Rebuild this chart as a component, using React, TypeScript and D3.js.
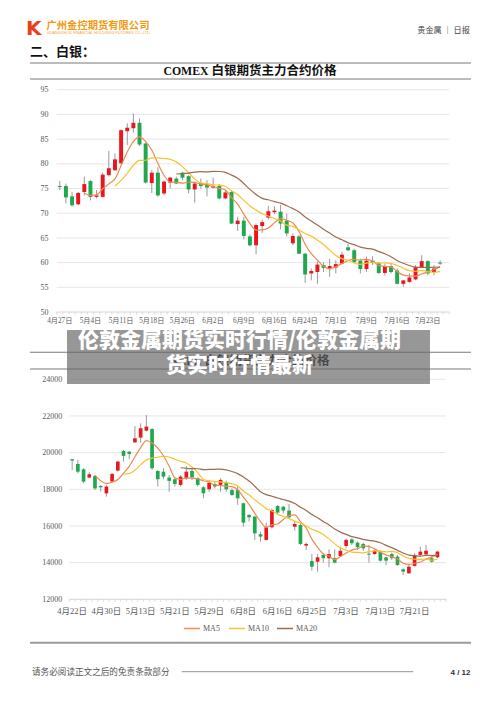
import React from "react";
import * as d3 from "d3";

// ---------- Chart 1: COMEX silver ----------
const comexTickLabels = ["4月27日", "5月4日", "5月11日", "5月18日", "5月26日", "6月2日", "6月9日", "6月16日", "6月24日", "7月1日", "7月9日", "7月16日", "7月23日"];
const comexSlots = 64;
const comexOpen = [75.5, 75.5, 73.4, 71.8, 74.3, 76.5, 73.3, 73.3, 77.7, 78.7, 80.1, 86.6, 87.2, 88.3, 84.1, 76.1, 78.2, 74.0, 76.2, 77.0, 78.2, 77.5, 74.8, 76.1, 75.8, 75.2, 75.5, 73.0, 74.3, 67.8, 68.5, 65.3, 63.5, 67.4, 69.1, 70.2, 70.3, 68.5, 63.9, 65.3, 61.8, 57.8, 58.1, 59.5, 58.7, 59.0, 59.8, 63.1, 62.5, 60.4, 58.7, 60.4, 59.9, 57.9, 59.3, 58.4, 55.7, 56.1, 56.6, 59.1, 60.3, 58.1, 60.0];
const comexHigh = [76.5, 76.0, 74.3, 74.3, 77.4, 76.7, 74.7, 78.2, 82.6, 82.1, 87.0, 88.2, 90.2, 89.2, 84.3, 78.7, 79.3, 76.7, 77.4, 77.4, 78.4, 77.7, 76.3, 77.0, 76.7, 77.2, 75.9, 74.7, 74.5, 69.3, 69.3, 65.7, 67.9, 68.7, 71.5, 71.4, 71.7, 69.9, 65.9, 65.6, 62.0, 58.8, 60.3, 60.1, 60.8, 60.5, 62.2, 63.8, 62.8, 60.8, 61.2, 61.3, 60.1, 59.8, 59.8, 58.8, 56.5, 57.8, 59.5, 61.5, 60.5, 59.5, 60.5];
const comexLow = [74.7, 72.0, 71.3, 71.6, 73.6, 72.6, 73.0, 73.2, 77.4, 78.6, 79.9, 83.8, 86.3, 83.6, 76.0, 74.1, 73.3, 73.6, 75.0, 75.9, 76.7, 74.0, 72.1, 75.0, 73.4, 75.0, 72.8, 72.8, 67.8, 66.4, 64.7, 63.3, 61.7, 66.0, 68.7, 69.8, 66.7, 65.3, 63.5, 61.7, 55.9, 56.4, 55.7, 58.1, 57.1, 57.8, 59.6, 62.3, 59.9, 57.8, 58.1, 59.5, 57.7, 57.4, 57.8, 55.6, 55.1, 55.9, 56.4, 58.9, 57.4, 57.4, 59.5];
const comexClose = [75.4, 73.2, 71.6, 74.1, 75.9, 73.3, 73.6, 77.8, 79.1, 80.9, 86.8, 87.3, 88.3, 83.9, 76.2, 78.2, 73.6, 76.4, 77.2, 76.0, 77.2, 74.8, 76.0, 75.5, 75.2, 75.5, 73.0, 74.2, 67.9, 68.5, 65.4, 63.5, 67.6, 68.2, 70.4, 70.5, 67.9, 65.9, 65.4, 61.8, 57.6, 58.3, 59.6, 58.9, 59.3, 59.7, 61.6, 62.5, 60.1, 58.7, 60.4, 59.9, 57.9, 59.3, 58.1, 55.7, 56.4, 57.0, 59.1, 60.3, 57.8, 58.8, 59.8];
const comexYTicks = [50, 55, 60, 65, 70, 75, 80, 85, 90, 95];

// ---------- Chart 2: SHFE silver ----------
const shfeTickLabels = ["4月22日", "4月30日", "5月13日", "5月21日", "5月29日", "6月8日", "6月16日", "6月25日", "7月3日", "7月13日", "7月21日"];
const shfeSlots = 66;
const shfeOpen = [19640, 19380, 19090, 18640, 18730, 18180, 17780, 18420, 19020, 20090, 20050, 20560, 20820, 21200, 21290, 19000, 18960, 18640, 18550, 18240, 18600, 19000, 18600, 18110, 18000, 18290, 18240, 18360, 17960, 17960, 17240, 16600, 16510, 15550, 15240, 15930, 17090, 17050, 16840, 15960, 16050, 14930, 14090, 14050, 14420, 14240, 14240, 14360, 14910, 15270, 15090, 15020, 14490, 14470, 14600, 14290, 14470, 14330, 13640, 13420, 13820, 14420, 14450, 14240, 14290];
const shfeHigh = [19660, 19600, 19150, 18960, 18780, 18240, 18240, 18870, 19560, 20150, 20090, 21450, 21600, 22050, 21330, 19050, 19150, 18780, 18650, 18780, 19270, 19150, 18650, 18180, 18510, 18420, 18600, 18470, 18050, 18150, 17270, 16650, 16550, 15690, 16180, 16960, 17150, 17090, 17200, 16240, 16150, 15090, 14470, 14470, 14510, 14730, 14730, 14870, 15330, 15330, 15150, 15090, 14960, 14730, 14650, 14330, 14550, 14420, 13690, 13870, 14510, 14870, 14960, 14330, 14650];
const shfeLow = [19050, 18870, 18330, 18600, 17960, 17870, 17600, 18360, 18960, 19510, 19640, 20540, 20540, 21150, 19050, 18150, 18550, 17870, 18150, 18150, 18510, 18510, 18150, 17510, 17870, 18050, 17870, 17870, 17640, 17150, 15960, 16240, 15240, 15150, 15200, 15870, 16650, 16690, 16420, 15750, 14960, 14690, 13560, 13510, 14000, 13750, 13960, 14330, 14780, 14960, 14690, 14640, 14000, 14420, 14050, 13870, 14150, 13820, 13330, 13380, 13780, 14330, 14380, 14000, 14240];
const shfeClose = [19570, 18960, 18420, 18820, 18050, 18110, 18150, 18840, 19510, 19820, 19930, 20780, 21330, 21420, 19150, 18550, 18690, 18460, 18290, 18690, 18960, 18650, 18240, 17780, 18360, 18150, 18510, 18000, 17690, 17510, 16180, 16470, 15600, 15420, 15930, 16870, 16730, 16840, 16470, 16110, 15020, 15020, 13780, 14290, 14240, 14470, 14000, 14650, 15240, 15060, 14840, 14780, 14460, 14650, 14110, 14110, 14240, 13870, 13510, 13780, 14420, 14600, 14650, 14050, 14600];
const shfeYTicks = [12000, 14000, 16000, 18000, 20000, 22000, 24000];

// ---------- Moving averages / legend ----------
const maPeriods = [5, 10, 20];
const maNames = ["MA5", "MA10", "MA20"];
const maColors = ["#ee8a52", "#f5c332", "#9c6b50"];

const UP = "#e8171f";
const DOWN = "#1fa84d";
const WICK = "#9a9a9a";
const AXIS_TEXT = "#595959";
const SERIF = "'Liberation Serif', 'Times New Roman', 'Noto Sans CJK SC', serif";
const CJK = "'Noto Sans CJK SC', sans-serif";

function movingAverage(values: number[], n: number): (number | null)[] {
  return values.map((_, i) => (i < n - 1 ? null : (d3.mean(values.slice(i - n + 1, i + 1)) as number)));
}

type ChartProps = {
  open: number[];
  high: number[];
  low: number[];
  close: number[];
  slots: number;
  tickLabels: string[];
  tickEvery: number;
  left: number;
  right: number;
  top: number;
  bottom: number;
  yMin: number;
  yMax: number;
  yTicks: number[];
  yLabelX: number;
  xLabelY: number;
  xFont: number;
  yFont: number;
};

function CandleChart(p: ChartProps) {
  const x = d3.scaleBand<number>().domain(d3.range(p.slots)).range([p.left, p.right]).padding(0);
  const y = d3.scaleLinear().domain([p.yMin, p.yMax]).range([p.bottom, p.top]);
  const bw = x.bandwidth();
  const cx = (i: number) => (x(i) ?? 0) + bw / 2;
  const bodyW = bw * 0.64;
  const mas = maPeriods.map((n) => movingAverage(p.close, n));
  const lineGen = d3
    .line<number | null>()
    .defined((d) => d != null)
    .x((_, i) => cx(i))
    .y((d) => y(d as number))
    .curve(d3.curveMonotoneX);

  return (
    <g>
      {p.yTicks.map((t) => (
        <line key={"g" + t} x1={p.left} x2={p.right} y1={y(t)} y2={y(t)} stroke={t === p.yMin ? "#d4d4d4" : "#e6e6e6"} strokeWidth={1} />
      ))}
      {d3.range(p.slots + 1).map((i) => (
        <line key={"t" + i} x1={p.left + i * bw} x2={p.left + i * bw} y1={y(p.yMin)} y2={y(p.yMin) + 2.5} stroke="#d4d4d4" strokeWidth={0.8} />
      ))}
      {p.yTicks.map((t) => (
        <text key={"yl" + t} x={p.yLabelX} y={y(t)} dy="0.33em" textAnchor="end" fontFamily={SERIF} fontSize={p.yFont} fill={AXIS_TEXT}>
          {t}
        </text>
      ))}
      {p.tickLabels.map((lab, k) => (
        <text key={"xl" + k} x={cx(k * p.tickEvery)} y={p.xLabelY} textAnchor="middle" fontFamily={SERIF} fontSize={p.xFont} fill={AXIS_TEXT}>
          {lab}
        </text>
      ))}
      {p.close.map((c, i) => {
        const o = p.open[i];
        const up = c >= o;
        const yTop = y(Math.max(o, c));
        const yBot = y(Math.min(o, c));
        return (
          <g key={"c" + i}>
            <line x1={cx(i)} x2={cx(i)} y1={y(p.high[i])} y2={y(p.low[i])} stroke={WICK} strokeWidth={1} />
            <rect x={cx(i) - bodyW / 2} y={yTop} width={bodyW} height={Math.max(1, yBot - yTop)} fill={up ? UP : DOWN} />
          </g>
        );
      })}
      {mas.map((m, k) => (
        <path key={"ma" + k} d={lineGen(m) ?? ""} fill="none" stroke={maColors[k]} strokeWidth={1.2} />
      ))}
    </g>
  );
}

export default function App() {
  return (
    <div style={{ position: "absolute", left: 0, top: 0, width: 500, height: 707, background: "#fff" }}>
      <svg width={500} height={707} style={{ display: "block" }}>
        <rect x={0} y={0} width={500} height={707} fill="#ffffff" />

        {/* Header */}
        <text x={26} y={34.5} fontFamily="'DejaVu Sans', sans-serif" fontWeight="bold" fontSize={20} fill="#e8401a">K</text>
        <text x={46.5} y={29.2} fontFamily={CJK} fontWeight="bold" fontSize={10.3} fill="#f29a12">广州金控期货有限公司</text>
        <text x={46.7} y={34.3} fontFamily="'Liberation Sans', sans-serif" fontSize={2.8} fill="#f2a540" textLength={103} lengthAdjust="spacingAndGlyphs">
          GUANGZHOU FINANCIAL HOLDINGS FUTURES CO.,LTD
        </text>
        <text x={470} y={32.5} textAnchor="end" fontFamily={CJK} fontSize={8.2} fill="#444">贵金属 ｜ 日报</text>

        <text x={30} y={55.5} fontFamily={CJK} fontWeight="bold" fontSize={13} fill="#111">二、白银：</text>
        <line x1={30} x2={471} y1={63} y2={63} stroke="#7a7a7a" strokeWidth={1.1} />
        <text x={250} y={75} textAnchor="middle" fontWeight="bold" fill="#111">
          <tspan fontFamily={SERIF} fontSize={11.8}>COMEX </tspan>
          <tspan fontFamily={CJK} fontSize={12.5}>白银期货主力合约价格</tspan>
        </text>
        <line x1={30} x2={471} y1={79} y2={79} stroke="#7a7a7a" strokeWidth={1.1} />

        {/* Chart 1 */}
        <CandleChart
          open={comexOpen}
          high={comexHigh}
          low={comexLow}
          close={comexClose}
          slots={comexSlots}
          tickLabels={comexTickLabels}
          tickEvery={5}
          left={56.7}
          right={449.3}
          top={89.7}
          bottom={312}
          yMin={50}
          yMax={95}
          yTicks={comexYTicks}
          yLabelX={48.5}
          xLabelY={323.3}
          xFont={7.2}
          yFont={8}
        />

        {/* Chart 2 title (mostly hidden under the banner) */}
        <line x1={30} x2={471} y1={352.3} y2={352.3} stroke="#7a7a7a" strokeWidth={1.1} />
        <text x={250} y={364.5} textAnchor="middle" fontWeight="bold" fill="#111">
          <tspan fontFamily={SERIF} fontSize={11.8}>SHFE </tspan>
          <tspan fontFamily={CJK} fontSize={12.5}>白银期货主力合约价格</tspan>
        </text>
        <line x1={30} x2={471} y1={369} y2={369} stroke="#7a7a7a" strokeWidth={1.1} />

        {/* Chart 2 */}
        <CandleChart
          open={shfeOpen}
          high={shfeHigh}
          low={shfeLow}
          close={shfeClose}
          slots={shfeSlots}
          tickLabels={shfeTickLabels}
          tickEvery={6}
          left={69.3}
          right={446}
          top={379.3}
          bottom={599.3}
          yMin={12000}
          yMax={24000}
          yTicks={shfeYTicks}
          yLabelX={62.3}
          xLabelY={613.8}
          xFont={8.5}
          yFont={8}
        />

        {/* Legend */}
        {maNames.map((name, k) => {
          const lx = [184, 229, 277][k];
          return (
            <g key={name}>
              <line x1={lx} x2={lx + 16} y1={628.5} y2={628.5} stroke={maColors[k]} strokeWidth={1.5} />
              <text x={lx + 19} y={631.3} fontFamily={SERIF} fontSize={8} fill={AXIS_TEXT}>{name}</text>
            </g>
          );
        })}

        {/* Footer */}
        <line x1={30} x2={471} y1={642.7} y2={642.7} stroke="#9a9a9a" strokeWidth={2} />
        <text x={32} y={674.5} fontFamily={CJK} fontSize={8.6} fill="#555">请务必阅读正文之后的免责条款部分</text>
        <line x1={181.7} x2={413.3} y1={671.7} y2={671.7} stroke="#777" strokeWidth={0.8} />
        <text x={470.5} y={674.5} textAnchor="end" fontFamily="'Liberation Sans', sans-serif" fontWeight="bold" fontSize={8} fill="#333">4 / 12</text>

        {/* Overlay banner */}
        <rect x={67} y={330} width={363} height={54} fill="#666666" fillOpacity={0.68} />
        <text x={239.5} y={347} textAnchor="middle" fontFamily={CJK} fontWeight={900} fontSize={21} fill="#ffffff">伦敦金属期货实时行情/伦敦金属期</text>
        <text x={239.5} y={371.5} textAnchor="middle" fontFamily={CJK} fontWeight={900} fontSize={21} fill="#ffffff">货实时行情最新</text>
      </svg>
    </div>
  );
}
